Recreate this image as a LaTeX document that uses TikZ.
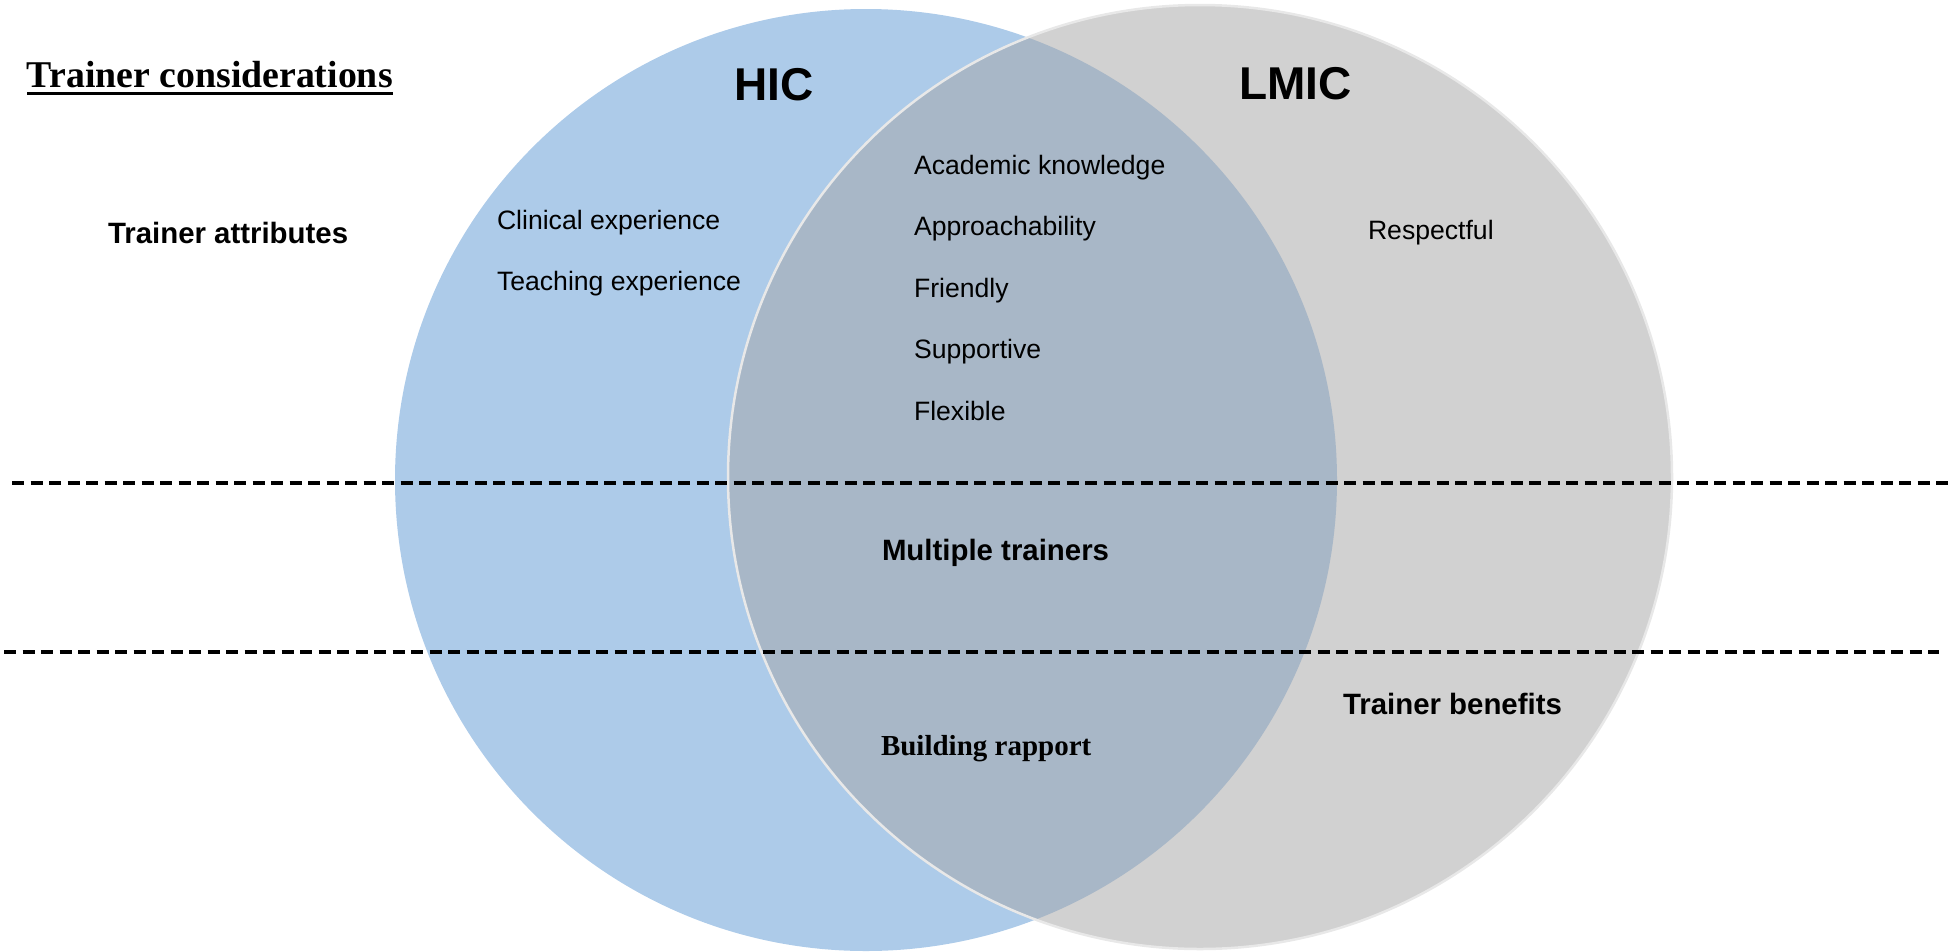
\documentclass[tikz,border=0pt]{standalone}
\usepackage{fontspec}
\setmainfont{Liberation Sans}
\newfontfamily\timesfont{Liberation Serif}
\begin{document}
\begin{tikzpicture}[x=1pt,y=-1pt,
  every node/.style={inner sep=0pt,outer sep=0pt,anchor=base west},
  item/.style={font=\fontsize{26.6}{30}\selectfont},
  rowlabel/.style={font=\fontsize{29.4}{33}\selectfont\bfseries},
  setlabel/.style={font=\fontsize{46}{52}\selectfont\bfseries},
  divider/.style={line width=3.2pt,dash pattern=on 12pt off 6.5pt},
]
\definecolor{hicblue}{RGB}{173,203,233}
\definecolor{lmicgray}{RGB}{209,209,209}
\definecolor{overlapcol}{RGB}{168,183,199}
\definecolor{rimcol}{RGB}{232,232,232}
\useasboundingbox (0,0) rectangle (1955,951);

% the two sets
\coordinate (hicc) at (866,480);
\coordinate (lmicc) at (1200,477);
\fill[hicblue] (hicc) circle[radius=471];
\fill[lmicgray] (lmicc) circle[radius=472];
\begin{scope}
  \clip (hicc) circle[radius=471];
  \fill[overlapcol] (lmicc) circle[radius=472];
\end{scope}
\draw[rimcol,line width=2.5pt] (lmicc) circle[radius=472];

% row dividers
\coordinate (d1a) at (12,483);
\coordinate (d1b) at (1949,483);
\coordinate (d2a) at (4,652);
\coordinate (d2b) at (1939,652);
\draw[divider] (d1a) -- (d1b);
\draw[divider] (d2a) -- (d2b);

% headings
\node[font=\fontsize{37.8}{42}\selectfont\timesfont\bfseries] (title) at (27,87) {Trainer considerations};
\draw[line width=3pt] ([yshift=-6pt]title.base west) -- ([yshift=-6pt]title.base east);
\node[setlabel] (hic) at (734,100) {HIC};
\node[setlabel] (lmic) at (1239,99) {LMIC};

% row labels
\node[rowlabel] (attr) at (108,243) {Trainer attributes};
\node[rowlabel] (multi) at (882,560) {Multiple trainers};
\node[rowlabel] (benef) at (1343,714) {Trainer benefits};
\node[font=\fontsize{29}{33}\selectfont\timesfont\bfseries] (rapport) at (881,755) {Building rapport};

% HIC only
\node[item] (clin) at (497,229) {Clinical experience};
\node[item] (teach) at (497,290) {Teaching experience};

% shared
\node[item] (acad) at (914,174) {Academic knowledge};
\node[item] (appr) at (914,235) {Approachability};
\node[item] (frnd) at (914,297) {Friendly};
\node[item] (supp) at (914,358) {Supportive};
\node[item] (flex) at (914,420) {Flexible};

% LMIC only
\node[item] (resp) at (1368,239) {Respectful};
\end{tikzpicture}
\end{document}
